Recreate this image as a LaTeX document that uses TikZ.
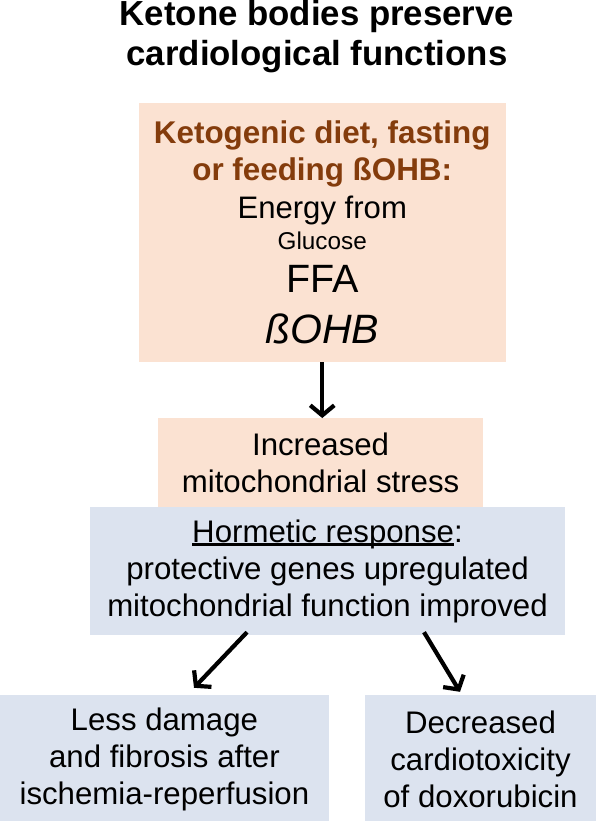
\documentclass[tikz,border=0pt]{standalone}
\usepackage{fontspec}
\setmainfont{Liberation Sans}
\usetikzlibrary{arrows.meta}
\setlength\parindent{0pt}
\definecolor{peach}{HTML}{FBE2D2}
\definecolor{paleblue}{HTML}{DCE3EF}
\definecolor{rust}{HTML}{843C0C}
\newcommand{\thickul}[1]{\setbox0\hbox{#1}\rlap{\rule[-3.5pt]{\wd0}{2.2pt}}\box0}

\begin{document}
\begin{tikzpicture}[x=1pt, y=-1pt,
  peachbox/.style={fill=peach, inner sep=0pt, align=center,
    execute at begin node={\spaceskip=.278em\xspaceskip=.278em}},
  bluebox/.style={fill=paleblue, inner sep=0pt, align=center,
    execute at begin node={\spaceskip=.278em\xspaceskip=.278em}},
  flow/.style={line width=4.2pt, -{Straight Barb[length=10pt,width=24pt]}},
  body/.style={font=\fontsize{31.2}{37}\selectfont}]
  \useasboundingbox (0,0) rectangle (596,821);
  % Title
  \node[font=\bfseries\fontsize{34.8}{40}\selectfont, align=center, inner sep=0pt]
    (title) at (317,37) {Ketone bodies preserve\\cardiological functions};
  % Diet box
  \node[peachbox, font=\fontsize{31.1}{38}\selectfont,
    text width=366.5, minimum width=366.5, minimum height=259]
    (ketodiet) at (322.25,232.5) {%
    {\color{rust}\bfseries\fontsize{31.4}{37}\selectfont Ketogenic diet, fasting\\or feeding ßOHB:\par}
    {\fontsize{31.1}{38}\selectfont Energy from\par}
    {\fontsize{24.3}{31}\selectfont Glucose\par}
    {\fontsize{39.5}{43}\selectfont FFA\par}
    {\itshape\fontsize{41}{51}\selectfont ßOHB\par}};
  % Stress box
  \node[peachbox, body, text width=325.5, minimum width=325.5, minimum height=88.5]
    (mitostress) at (320.6,462.5) {Increased\\mitochondrial stress};
  % Hormesis box
  \node[bluebox, body, text width=475, minimum width=475, minimum height=128]
    (hormetic) at (327.5,571)
    {\thickul{Hormetic response}:\\protective genes upregulated\\mitochondrial function improved};
  % Outcome boxes
  \node[bluebox, body, text width=328.8, minimum width=328.8, minimum height=128]
    (lessdamage) at (164.4,759) {Less damage\\and fibrosis after\\ischemia-reperfusion};
  \node[bluebox, body, text width=231, minimum width=231, minimum height=128]
    (doxo) at (480.5,759) {Decreased\\cardiotoxicity\\of doxorubicin};
  % Arrows
  \draw[flow] (ketodiet.south) -- (ketodiet.south |- mitostress.north);
  \draw[flow] ([xshift=-80.5pt,yshift=3pt]hormetic.south)
    -- ([xshift=29.6pt,yshift=7pt]lessdamage.north);
  \draw[flow] ([xshift=96.5pt,yshift=3pt]hormetic.south)
    -- ([xshift=-20.5pt,yshift=3pt]doxo.north);
\end{tikzpicture}
\end{document}
